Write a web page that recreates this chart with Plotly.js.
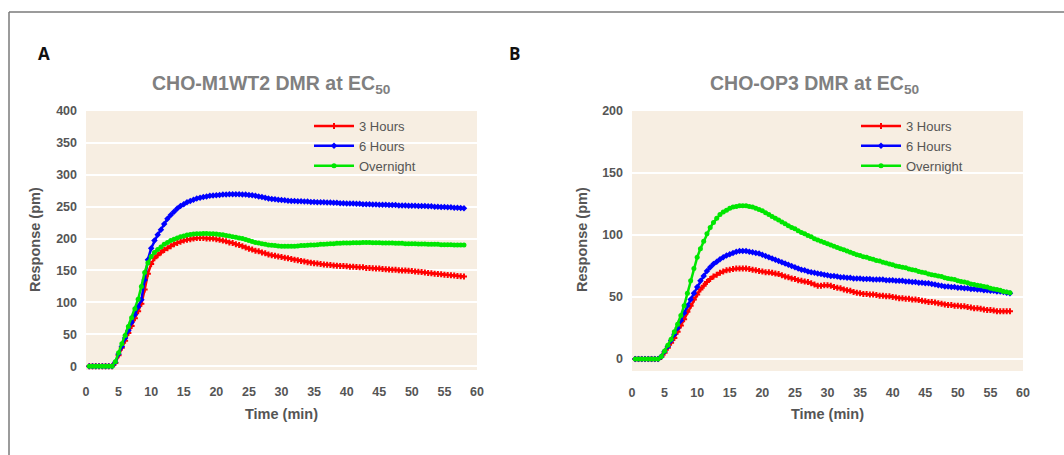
<!DOCTYPE html>
<html>
<head>
<meta charset="utf-8">
<script src="https://cdn.plot.ly/plotly-3.0.1.min.js"></script>
<style>
html,body{margin:0;padding:0;background:#fff;}
#chart{width:1064px;height:455px;}
</style>
</head>
<body>
<div id="chart"></div>
<script>
// Time points (min)
const timeMin = [
  0.5,1,1.5,2,2.5,3,3.5,4,4.5,5,
  5.5,6,6.5,7,7.5,8,8.5,9,9.5,10,
  10.5,11,11.5,12,12.5,13,13.5,14,14.5,15,
  15.5,16,16.5,17,17.5,18,18.5,19,19.5,20,
  20.5,21,21.5,22,22.5,23,23.5,24,24.5,25,
  25.5,26,26.5,27,27.5,28,28.5,29,29.5,30,
  30.5,31,31.5,32,32.5,33,33.5,34,34.5,35,
  35.5,36,36.5,37,37.5,38,38.5,39,39.5,40,
  40.5,41,41.5,42,42.5,43,43.5,44,44.5,45,
  45.5,46,46.5,47,47.5,48,48.5,49,49.5,50,
  50.5,51,51.5,52,52.5,53,53.5,54,54.5,55,
  55.5,56,56.5,57,57.5,58
];

const seriesNames = ["3 Hours", "6 Hours", "Overnight"];

// Panel A: CHO-M1WT2
const m1_3h = [
  0,0,0,0,0,0,0,0,5,17,
  29,40,52,63,75,86,98,120,145,160,
  169,174,178,182,185,188,191,193,195,197,
  198,199,200,201,201,201,200,200,200,199,
  198,197,196,194,193,191,190,188,186,184,
  183,181,180,178,177,175,174,173,172,171,
  170,169,168,167,166,165,164,163,162,161.5,
  161,160,159.5,159,158.5,158,157.5,157,157,156.5,
  156,156,155.5,155,155,154,154,153.5,153,153,
  152.5,152,151.5,151,151,150.5,150,150,149.5,149,
  148.5,148,147.5,147,146,145.5,145,144.5,144,143.5,
  143,142.5,142,141.5,141,140.5
];
const m1_6h = [
  0,0,0,0,0,0,0,0,6,19,
  31,44,56,69,81,93,104,135,167,185,
  197,206,214,223,231,237,242,247,251,254,
  257,259,261,263,264,265,266,267,267.5,268,
  268.5,269,269,269.5,269.5,269.5,269.5,269,269,268.5,
  268,267,266,265,264,263,262,261.5,261,260.5,
  260,259.5,259,259,258.5,258.5,258,258,257.5,257.5,
  257,257,257,256.5,256.5,256,256,255.5,255.5,255,
  255,255,254.5,254.5,254,254,254,253.5,253.5,253,
  253,253,252.5,252.5,252.5,252,252,252,251.5,251.5,
  251.5,251,251,251,250.5,250.5,250,250,249.5,249.5,
  249,249,248.5,248.5,248,247.5
];
const m1_on = [
  0,0,0,0,0,0,0,0,7,21,
  35,48,62,76,90,105,125,147,162,172,
  178,183,187,191,194,197,199,201,203,204,
  205.5,206.5,207,207.5,207.5,208,208,207.5,207.5,207,
  206.5,206,205,204,203,202,201,200,198.5,197,
  195.5,194,193,192,191,190,189.5,189,188.5,188,
  188,188,188,188,188.5,189,189,189.5,190,190,
  190.5,191,191,191.5,192,192,192.5,192.5,193,193,
  193,193.5,193.5,193.5,194,194,194,193.5,193.5,193.5,
  193,193,193,193,192.5,192.5,192.5,192,192,192,
  192,191.5,191.5,191.5,191,191,191,191,190.5,190.5,
  190.5,190.5,190,190,190,190
];

// Panel B: CHO-OP3
const op3_3h = [
  0,0,0,0,0,0,0,0,1.5,5,
  9,13,17,22,27,32,38,43,48,52,
  56,59,62,64.5,66.5,68,69.5,70.5,71.5,72,
  72.5,73,73,73,73,72.5,72,71.5,71,70.5,
  70,70,69.5,69,68.5,67.5,66.5,66,65,64.5,
  63.5,63,62.5,62,61,60,59,59,59.5,59.5,
  59,58,57.5,57,56,55.5,55,54,53.5,53,
  52.5,52.5,52,52,51.5,51,51,50.5,50.5,50,
  49.5,49,49,48.5,48.5,48,48,47.5,47,46.5,
  46,46,45.5,45,44.5,44,43.5,43.5,43,43,
  42.5,42.5,42,41.5,41,41,40.5,40,39.5,39.5,
  39,38.5,38.5,38.5,38.5,38.5
];
const op3_6h = [
  0,0,0,0,0,0,0,0,2,6,
  10,15,20,25,31,37,43,48,53,58,
  63,67,71,74,76.5,78.5,80.5,82,83.5,84.5,
  85.5,86.5,87,87,87,86.5,86,85.5,85,84,
  83,82,81,80,79,78,77,76,75,74,
  73,72,71.5,70.5,70,69.5,69,68.5,68,67.5,
  67,67,66.5,66,66,65.5,65.5,65,65,65,
  64.5,64.5,64.5,64,64,64,64,63.5,63.5,63.5,
  63,63,63,62.5,62.5,62,62,61.5,61.5,61,
  61,60.5,60,59.5,59,58.5,58.5,58,58,57.5,
  57.5,57,57,56.5,56.5,56,56,55.5,55.5,55,
  55,54.5,54.5,54,53.5,53
];
const op3_on = [
  0,0,0,0,0,0,0,0,2,6.5,
  11,16,22,28,35,43,53,63,73,82,
  89,95,101,106,110,113.5,116.5,118.5,120,121.5,
  122.5,123,123.5,123.5,123.5,123,122.5,121.5,120.5,119.5,
  118,116.5,115,113.5,112,110.5,109,107.5,106,105,
  103.5,102,101,99.5,98.5,97,96,95,94,93,
  92,91,90,89,88,87,86,85,84,83.5,
  82.5,82,81,80.5,79.5,79,78,77.5,76.5,76,
  75,74.5,74,73.5,72.5,72,71.5,70.5,70,69.5,
  68.5,68,67.5,67,66.5,65.5,65,64.5,64,63,
  62.5,62,61.5,60.5,60,59.5,59,58.5,58,57,
  56.5,56,55.5,54.5,54,53.5
];

const xTickVals = [0,5,10,15,20,25,30,35,40,45,50,55,60];
const yTickValsA = [0,50,100,150,200,250,300,350,400];
const yTickValsB = [0,50,100,150,200];

const colors = ["#ff0000", "#0000ff", "#00e600"];
const symbols = ["cross", "diamond", "circle"];

const W = 1064, H = 455;
const px = v => v / W;
const py = v => 1 - v / H;

function mk(y, i, xa, ya, leg) {
  return {
    x: timeMin, y: y, type: "scatter", mode: "lines+markers",
    name: seriesNames[i], xaxis: xa, yaxis: ya, legend: leg,
    line: {color: colors[i], width: 2.5},
    marker: {color: colors[i], size: 5, symbol: symbols[i]}
  };
}

const data = [
  mk(m1_3h, 0, "x", "y", "legend"),
  mk(m1_6h, 1, "x", "y", "legend"),
  mk(m1_on, 2, "x", "y", "legend"),
  mk(op3_3h, 0, "x2", "y2", "legend2"),
  mk(op3_6h, 1, "x2", "y2", "legend2"),
  mk(op3_on, 2, "x2", "y2", "legend2")
];

const tickFont = {family: "Liberation Sans, Arial, sans-serif", size: 12.5, color: "#555", weight: "bold"};
const xCommon = {
  range: [0, 60], tickvals: xTickVals, showgrid: false, zeroline: false,
  showline: false, ticks: "", tickfont: tickFont, ticklabelstandoff: 12, fixedrange: true
};
const yCommon = {
  showgrid: true, gridcolor: "#ffffff", gridwidth: 2, zeroline: false,
  showline: false, ticks: "", tickfont: tickFont, ticklabelstandoff: 8, fixedrange: true
};
const legendCommon = {
  font: {family: "Liberation Sans, Arial, sans-serif", size: 13, color: "#555"},
  bgcolor: "rgba(0,0,0,0)", borderwidth: 0, xanchor: "left", yanchor: "top",
  tracegroupgap: 0, itemwidth: 40
};

const titleFont = {family: "Liberation Sans, Arial, sans-serif", size: 19.5, color: "#808080", weight: "bold"};
const axTitleFont = {family: "Liberation Sans, Arial, sans-serif", size: 14.5, color: "#555", weight: "bold"};
const letterFont = {family: "Open Sans, sans-serif", size: 17, color: "#111", weight: "bold"};

function ann(text, x, y, font, angle) {
  const a = {text: text, x: px(x), y: py(y), xref: "paper", yref: "paper", showarrow: false,
             xanchor: "center", yanchor: "middle", font: font};
  if (angle) a.textangle = angle;
  return a;
}

const layout = {
  width: W, height: H,
  margin: {l: 0, r: 0, t: 0, b: 0},
  paper_bgcolor: "#ffffff",
  plot_bgcolor: "#f7eee2",
  showlegend: true,
  xaxis: Object.assign({}, xCommon, {domain: [px(86), px(477)], anchor: "y"}),
  yaxis: Object.assign({}, yCommon, {domain: [py(370), py(111)], range: [-6, 400], tickvals: yTickValsA, anchor: "x"}),
  xaxis2: Object.assign({}, xCommon, {domain: [px(632), px(1023)], anchor: "y2"}),
  yaxis2: Object.assign({}, yCommon, {domain: [py(371), py(111)], range: [-9.7, 200], tickvals: yTickValsB, anchor: "x2"}),
  legend: Object.assign({}, legendCommon, {x: px(309), y: py(111)}),
  legend2: Object.assign({}, legendCommon, {x: px(856), y: py(111)}),
  annotations: [
    ann("A", 44, 53, letterFont),
    ann("B", 514, 53, letterFont),
    ann("CHO-M1WT2 DMR at EC<sub>50</sub>", 271, 84, titleFont),
    ann("CHO-OP3 DMR at EC<sub>50</sub>", 815, 84, titleFont),
    ann("Response (pm)", 35, 240, axTitleFont, -90),
    ann("Response (pm)", 582, 240, axTitleFont, -90),
    ann("Time (min)", 281, 414, axTitleFont),
    ann("Time (min)", 827, 414, axTitleFont)
  ],
  shapes: [
    {type: "line", xref: "paper", yref: "paper", x0: px(9), x1: 1, y0: py(12), y1: py(12), line: {color: "#7a7a7a", width: 1.5}},
    {type: "line", xref: "paper", yref: "paper", x0: px(9), x1: px(9), y0: py(12), y1: 0, line: {color: "#7a7a7a", width: 1.5}}
  ]
};

Plotly.newPlot("chart", data, layout, {displayModeBar: false, staticPlot: true});
</script>
</body>
</html>
